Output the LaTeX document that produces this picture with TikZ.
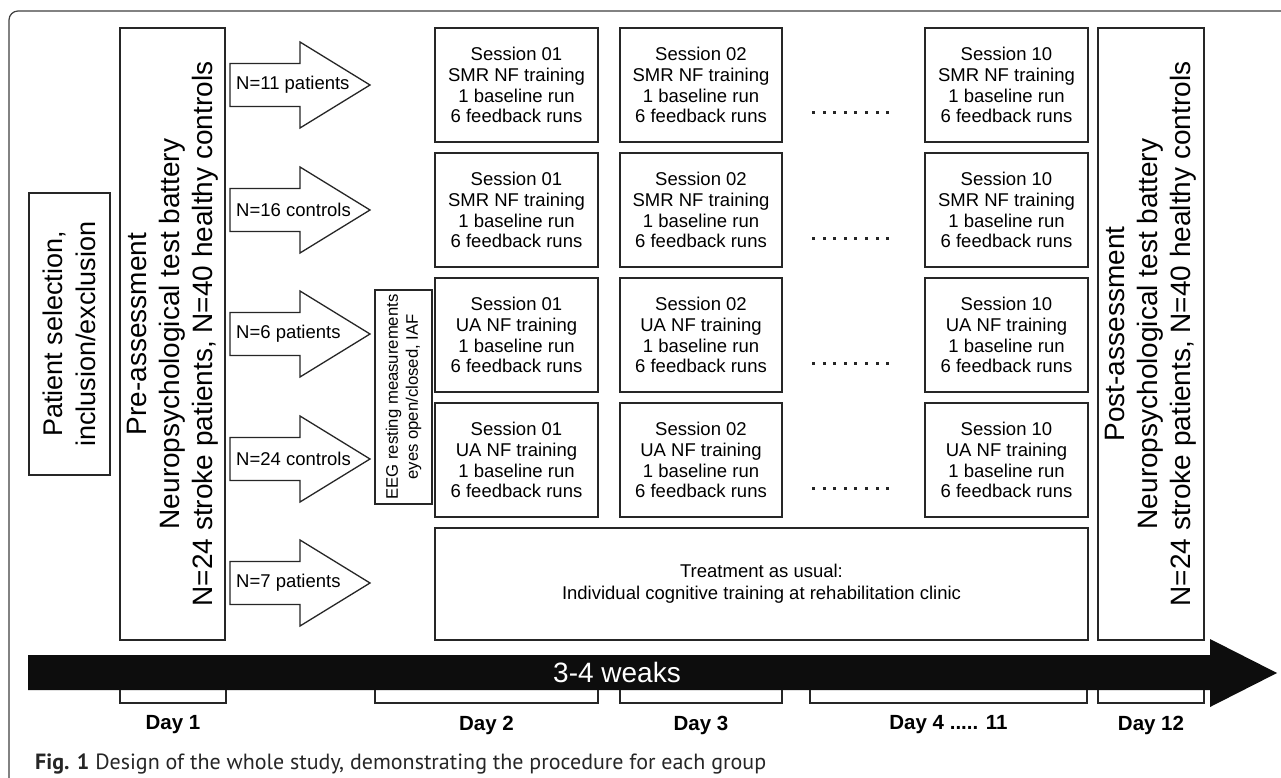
\documentclass[tikz,border=0pt]{standalone}
\usepackage{fontspec}
\setmainfont{Liberation Sans}
\newfontfamily\capfont{PT Sans}
\begin{document}
\begin{tikzpicture}[x=1pt,y=-1pt,
  bx/.style={draw=black!85, line width=1.3pt, fill=white, inner sep=0pt, align=center},
  sess/.style={bx, minimum width=163pt, minimum height=114pt, font=\fontsize{18.5}{20.8}\selectfont},
  vbig/.style={bx, rotate=90, font=\fontsize{28}{33}\selectfont},
  blk/.style={draw=black!85, line width=1.3pt, fill=white, line join=miter},
  lbl/.style={anchor=west, inner sep=0pt, font=\fontsize{18.5}{21}\selectfont},
  dayl/.style={inner sep=0pt, font=\fontsize{20.5}{23}\selectfont\bfseries},
  brk/.style={draw=black!85, line width=1.3pt},
  dotf/.style={fill=black!85}]
\useasboundingbox (0,0) rectangle (1281,778);
\clip (0,0) rectangle (1281,778);
\fill[white] (0,0) rectangle (1281,778);
% outer frame
\draw[line width=1.2pt, black!75, rounded corners=9pt] (1300,11) -- (9,11) -- (9,800);

% patient selection
\node[vbig, minimum width=282pt, minimum height=81pt, font=\fontsize{27}{33}\selectfont] (sel) at (69.5,334) {Patient selection,\\inclusion/exclusion};
% pre-assessment
\node[vbig, minimum width=612pt, minimum height=105pt] (pre) at (172.5,334) {Pre-assessment\\Neuropsychological test battery\\N=24 stroke patients, N=40 healthy controls};
% post-assessment
\node[vbig, minimum width=612pt, minimum height=106pt] (post) at (1151,334) {Post-assessment\\Neuropsychological test battery\\N=24 stroke patients, N=40 healthy controls};

% block arrows
\foreach \c/\t/\n in {85/N=11 patients/a1, 210/N=16 controls/a2, 334/N=6 patients/a3, 459/N=24 controls/a4, 583/N=7 patients/a5}{
  \draw[blk] (230,\c-21.5) -- (300,\c-21.5) -- (300,\c-43) -- (370,\c) -- (300,\c+43) -- (300,\c+21.5) -- (230,\c+21.5) -- cycle;
  \node[lbl] (\n) at (236,\c) {\t};
}

% EEG
\node[bx, rotate=90, minimum width=214pt, minimum height=57pt, font=\fontsize{16.7}{20}\selectfont] (eeg) at (403.5,397) {EEG resting measurements\\eyes open/closed, IAF};

% sessions
\foreach \r/\y/\k in {1/85/SMR, 2/210/SMR, 3/335/UA, 4/460/UA}{
  \node[sess] (s\r a) at (516.5,\y) {Session 01\\\k{} NF training\\1 baseline run\\6 feedback runs};
  \node[sess, minimum width=162pt] (s\r b) at (701,\y) {Session 02\\\k{} NF training\\1 baseline run\\6 feedback runs};
  \node[sess] (s\r c) at (1006.5,\y) {Session 10\\\k{} NF training\\1 baseline run\\6 feedback runs};
  \foreach \i in {0,1,2,3,4,5,6,7}{
    \fill[dotf] (812+10.6*\i,\y+26.5) rectangle ++(3,3);
  }
}

% treatment as usual
\node[bx, minimum width=653pt, minimum height=112pt, font=\fontsize{18.5}{22}\selectfont] (tau) at (761.5,584) {Treatment as usual:\\Individual cognitive training at rehabilitation clinic};

% timeline bar
\fill[black!95] (28,655) -- (1210,655) -- (1210,639) -- (1277,673) -- (1210,707) -- (1210,690) -- (28,690) -- cycle;
\node[text=white, inner sep=0pt, font=\fontsize{28}{30}\selectfont] (weeks) at (617,672) {3-4 weaks};

% day brackets
\foreach \xa/\xb/\n in {120/226/d1, 375/598/d2, 620/782/d3, 810/1087/d4, 1098/1204/d12}{
  \draw[brk] (\xa,690) -- (\xa,703) -- (\xb,703) -- (\xb,690);
}
\node[dayl] (d1) at (173,725) {Day 1};
\node[dayl] (d2) at (486.5,725) {Day 2};
\node[dayl] (d3) at (701,725) {Day 3};
\node[dayl] (d4) at (948.5,725) {Day 4 ..... 11};
\node[dayl] (d12) at (1151,725) {Day 12};

% caption
\node[anchor=west, inner sep=0pt, text=black!85, font=\capfont\fontsize{22}{25}\selectfont] (cap) at (35,764) {\textbf{Fig. 1} Design of the whole study, demonstrating the procedure for each group};
\end{tikzpicture}
\end{document}
